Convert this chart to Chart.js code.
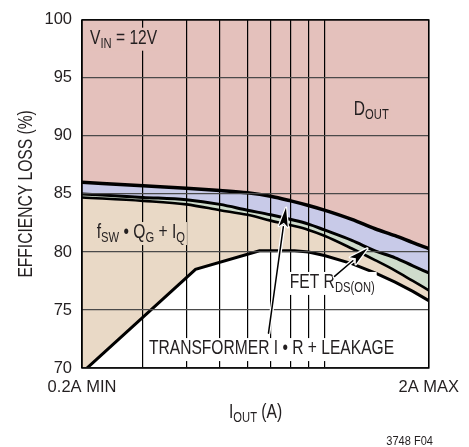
<!DOCTYPE html>
<html>
<head>
<meta charset="utf-8">
<script src="https://cdn.jsdelivr.net/npm/chart.js@4.4.1/dist/chart.umd.min.js"></script>
<style>
	html, body { margin: 0; padding: 0; background: #fff; }
</style>
</head>
<body>
<canvas id="lossChart" width="469" height="447"></canvas>
<script>
// x points (A) for the three upper loss boundaries
const iout = [0.2, 0.3, 0.4, 0.5, 0.6, 0.7, 0.8, 0.9, 1.0, 1.2, 1.4, 1.6, 1.8, 2.0]
// boundary D_OUT / transformer band
const doutEdge = [86.0, 85.7, 85.5, 85.3, 85.1, 84.8, 84.4, 84.0, 83.6, 82.8, 82.0, 81.4, 80.8, 80.3]
// boundary transformer / FET band
const transformerEdge = [85.0, 84.7, 84.5, 84.1, 83.6, 83.2, 82.8, 82.4, 81.9, 81.0, 80.1, 79.5, 78.8, 78.2]
// boundary FET / switching band
const fetEdge = [84.7, 84.4, 84.1, 83.6, 83.2, 82.7, 82.3, 81.9, 81.4, 80.3, 79.3, 78.4, 77.5, 76.7]
// lowest (kinked) boundary has its own x points
const ioutSw = [0.2, 0.425, 0.65, 0.82, 0.9, 1.0, 1.2, 1.4, 1.6, 1.8, 2.0]
const swEdge = [69.6, 78.5, 80.1, 80.1, 80.0, 79.7, 79.0, 78.2, 77.4, 76.6, 75.8]

const xTicks = [0.2, 0.3, 0.4, 0.5, 0.6, 0.7, 0.8, 0.9, 1.0, 2.0]
const xTickLabels = { 0.2: '0.2A MIN', 2: '2A MAX' }
const yTicks = [70, 75, 80, 85, 90, 95, 100]

const FONT = '"Liberation Sans", Arial, sans-serif'
const INK = '#231f20'
const SQUEEZE = 0.8 //fake condensed face

const pts = (xs, ys) => xs.map((x, i) => ({ x: x, y: ys[i] }))

//text with subscripts, optional background box to hide the grid
function richText(ctx, x, y, parts, bg) {
	let w = 0
	parts.forEach(p => {
		ctx.font = (p[1] ? '14px ' : '19.5px ') + FONT
		w += ctx.measureText(p[0]).width * SQUEEZE
	})
	if (bg) {
		ctx.fillStyle = bg
		ctx.fillRect(x - 2, y - 16, w + 4, 23)
	}
	ctx.fillStyle = INK
	ctx.textAlign = 'left'
	ctx.textBaseline = 'alphabetic'
	let cx = x
	parts.forEach(p => {
		ctx.font = (p[1] ? '14px ' : '19.5px ') + FONT
		ctx.save()
		ctx.translate(cx, p[1] ? y + 4 : y)
		ctx.scale(SQUEEZE, 1)
		ctx.fillText(p[0], 0, 0)
		ctx.restore()
		cx += ctx.measureText(p[0]).width * SQUEEZE
	})
}

function arrow(ctx, x1, y1, x2, y2) {
	const ang = Math.atan2(y2 - y1, x2 - x1)
	const len = 19, half = 4.5
	const bx = x2 - len * Math.cos(ang)
	const by = y2 - len * Math.sin(ang)
	ctx.lineCap = 'round'
	ctx.beginPath()
	ctx.moveTo(x1, y1)
	ctx.lineTo(bx, by)
	ctx.strokeStyle = '#fff'
	ctx.lineWidth = 4
	ctx.stroke()
	ctx.strokeStyle = '#000'
	ctx.lineWidth = 1.5
	ctx.stroke()
	ctx.beginPath()
	ctx.moveTo(x2, y2)
	ctx.lineTo(bx + half * Math.sin(ang), by - half * Math.cos(ang))
	ctx.lineTo(bx + 4 * Math.cos(ang), by + 4 * Math.sin(ang))
	ctx.lineTo(bx - half * Math.sin(ang), by + half * Math.cos(ang))
	ctx.closePath()
	ctx.lineJoin = 'round'
	ctx.strokeStyle = '#fff'
	ctx.lineWidth = 2.5
	ctx.stroke()
	ctx.fillStyle = '#000'
	ctx.fill()
}

const annotations = {
	id: 'annotations',
	afterDraw(chart) {
		const ctx = chart.ctx
		const xs = chart.scales.x, ys = chart.scales.y
		const a = chart.chartArea
		const px = v => xs.getPixelForValue(v)
		const py = v => ys.getPixelForValue(v)
		ctx.save()

		//frame
		ctx.strokeStyle = '#000'
		ctx.lineWidth = 1.5
		ctx.strokeRect(a.left, a.top, a.right - a.left, a.bottom - a.top)

		//labels
		richText(ctx, px(0.211), py(97.95), [['V'], ['IN', 1], [' = 12V']], '#e4c1bc')
		richText(ctx, px(1.216), py(91.8), [['D'], ['OUT', 1]], '#e4c1bc')
		richText(ctx, px(0.2206), py(81.2), [['f'], ['SW', 1], [' • Q'], ['G', 1], [' + I'], ['Q', 1]], '#e9d9c6')
		richText(ctx, px(0.795), py(76.9), [['FET R'], ['DS(ON)', 1]], '#fff')
		richText(ctx, px(0.312), py(71.2), [['TRANSFORMER I • R + LEAKAGE']], '#fff')

		//arrows
		arrow(ctx, px(0.69), py(73.0), px(0.775), py(83.8))
		arrow(ctx, px(1.07), py(77.9), px(1.33), py(80.3))

		//axis titles
		richText(ctx, 229, 418, [['I'], ['OUT', 1], [' (A)']])

		ctx.save()
		ctx.translate(32, (a.top + a.bottom) / 2)
		ctx.rotate(-Math.PI / 2)
		ctx.scale(SQUEEZE, 1)
		ctx.textAlign = 'center'
		ctx.font = '19.5px ' + FONT
		ctx.fillStyle = INK
		ctx.fillText('EFFICIENCY LOSS (%)', 0, 0)
		ctx.restore()

		ctx.save()
		ctx.translate(433, 445)
		ctx.scale(0.85, 1)
		ctx.font = '13px ' + FONT
		ctx.textAlign = 'right'
		ctx.fillStyle = INK
		ctx.fillText('3748 F04', 0, 0)
		ctx.restore()
		ctx.restore()
	}
}

const chart_ctx = document.getElementById('lossChart').getContext('2d')

new Chart(chart_ctx, {
	type: 'line',
	data: {
		datasets: [
			{
				label: 'D OUT',
				data: pts(iout, doutEdge),
				borderColor: '#000',
				borderWidth: 3.5,
				backgroundColor: '#e4c1bc',
				fill: 'end',
				cubicInterpolationMode: 'monotone'
			},
			{
				label: 'Transformer',
				data: pts(iout, transformerEdge),
				borderColor: '#000',
				borderWidth: 3,
				backgroundColor: '#c8cae8',
				fill: '-1',
				cubicInterpolationMode: 'monotone'
			},
			{
				label: 'FET',
				data: pts(iout, fetEdge),
				borderColor: '#000',
				borderWidth: 2.6,
				backgroundColor: '#cfdccc',
				fill: '-1',
				cubicInterpolationMode: 'monotone'
			},
			{
				label: 'Switching',
				data: pts(ioutSw, swEdge),
				borderColor: '#000',
				borderWidth: 3,
				backgroundColor: '#e9d9c6',
				fill: '-1',
				tension: 0
			}
		]
	},
	options: {
		responsive: false,
		animation: false,
		events: [],
		elements: { point: { radius: 0 } },
		layout: { padding: { left: 0, right: 35, top: 17, bottom: 0 } },
		plugins: {
			legend: { display: false },
			tooltip: { enabled: false }
		},
		scales: {
			x: {
				type: 'logarithmic',
				min: 0.2,
				max: 2,
				afterBuildTicks: (scale) => { scale.ticks = xTicks.map(v => ({ value: v })) },
				afterFit: (scale) => { scale.height = 79 },
				grid: { color: '#000', lineWidth: 1.2, drawTicks: false, z: 1 },
				border: { display: false },
				ticks: {
					padding: 10,
					maxRotation: 0,
					autoSkip: false,
					color: INK,
					font: { family: FONT, size: 16.5 },
					callback: (value) => xTickLabels[value] || ''
				}
			},
			y: {
				min: 70,
				max: 100,
				afterBuildTicks: (scale) => { scale.ticks = yTicks.map(v => ({ value: v })) },
				afterFit: (scale) => { scale.width = 82 },
				grid: { color: '#4a4a4a', lineWidth: 1.2, drawTicks: false, z: 1 },
				border: { display: false },
				ticks: {
					padding: 10,
					color: INK,
					font: { family: FONT, size: 16.5 }
				}
			}
		}
	},
	plugins: [annotations]
})
</script>
</body>
</html>
